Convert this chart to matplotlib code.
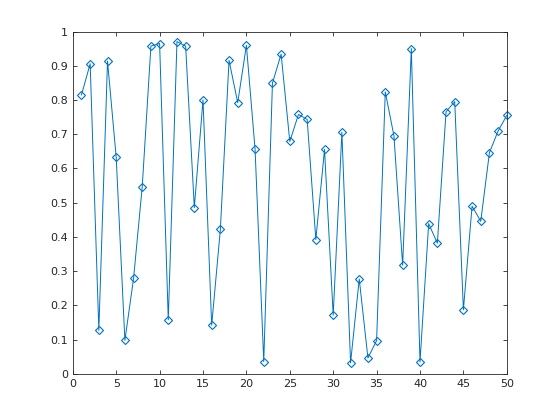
import matplotlib
matplotlib.use("Agg")
import matplotlib.pyplot as plt

# values
x = list(range(1, 51))
y = [0.8147, 0.9058, 0.1270, 0.9134, 0.6324, 0.0975, 0.2785, 0.5469, 0.9575, 0.9649,
     0.1576, 0.9706, 0.9572, 0.4854, 0.8003, 0.1419, 0.4218, 0.9157, 0.7922, 0.9595,
     0.6557, 0.0357, 0.8491, 0.9340, 0.6787, 0.7577, 0.7431, 0.3922, 0.6555, 0.1712,
     0.7060, 0.0318, 0.2769, 0.0462, 0.0971, 0.8235, 0.6948, 0.3171, 0.9502, 0.0344,
     0.4387, 0.3816, 0.7655, 0.7952, 0.1869, 0.4898, 0.4456, 0.6463, 0.7094, 0.7547]
xticks = [0, 5, 10, 15, 20, 25, 30, 35, 40, 45, 50]
yticks = [0, 0.1, 0.2, 0.3, 0.4, 0.5, 0.6, 0.7, 0.8, 0.9, 1]

fig = plt.figure(figsize=(5.6, 4.2), dpi=100)
ax = fig.add_axes([0.13, 0.11, 0.775, 0.815])
ax.plot(x, y, "-D", color="#0072BD", lw=0.7, ms=3.6, mfc="none", mew=0.8,
        clip_on=False)
ax.set_xlim(0, 50)
ax.set_ylim(0, 1)
ax.set_xticks(xticks)
ax.set_yticks(yticks)
ax.set_xticklabels([str(t) for t in xticks])
ax.set_yticklabels([f"{t:g}" for t in yticks])
ax.tick_params(direction="in", top=True, right=True, labelsize=8,
               colors="#262626", length=3, width=0.6)
for s in ax.spines.values():
    s.set_color("#262626")
    s.set_linewidth(0.6)
fig.savefig("out.png", dpi=100)
